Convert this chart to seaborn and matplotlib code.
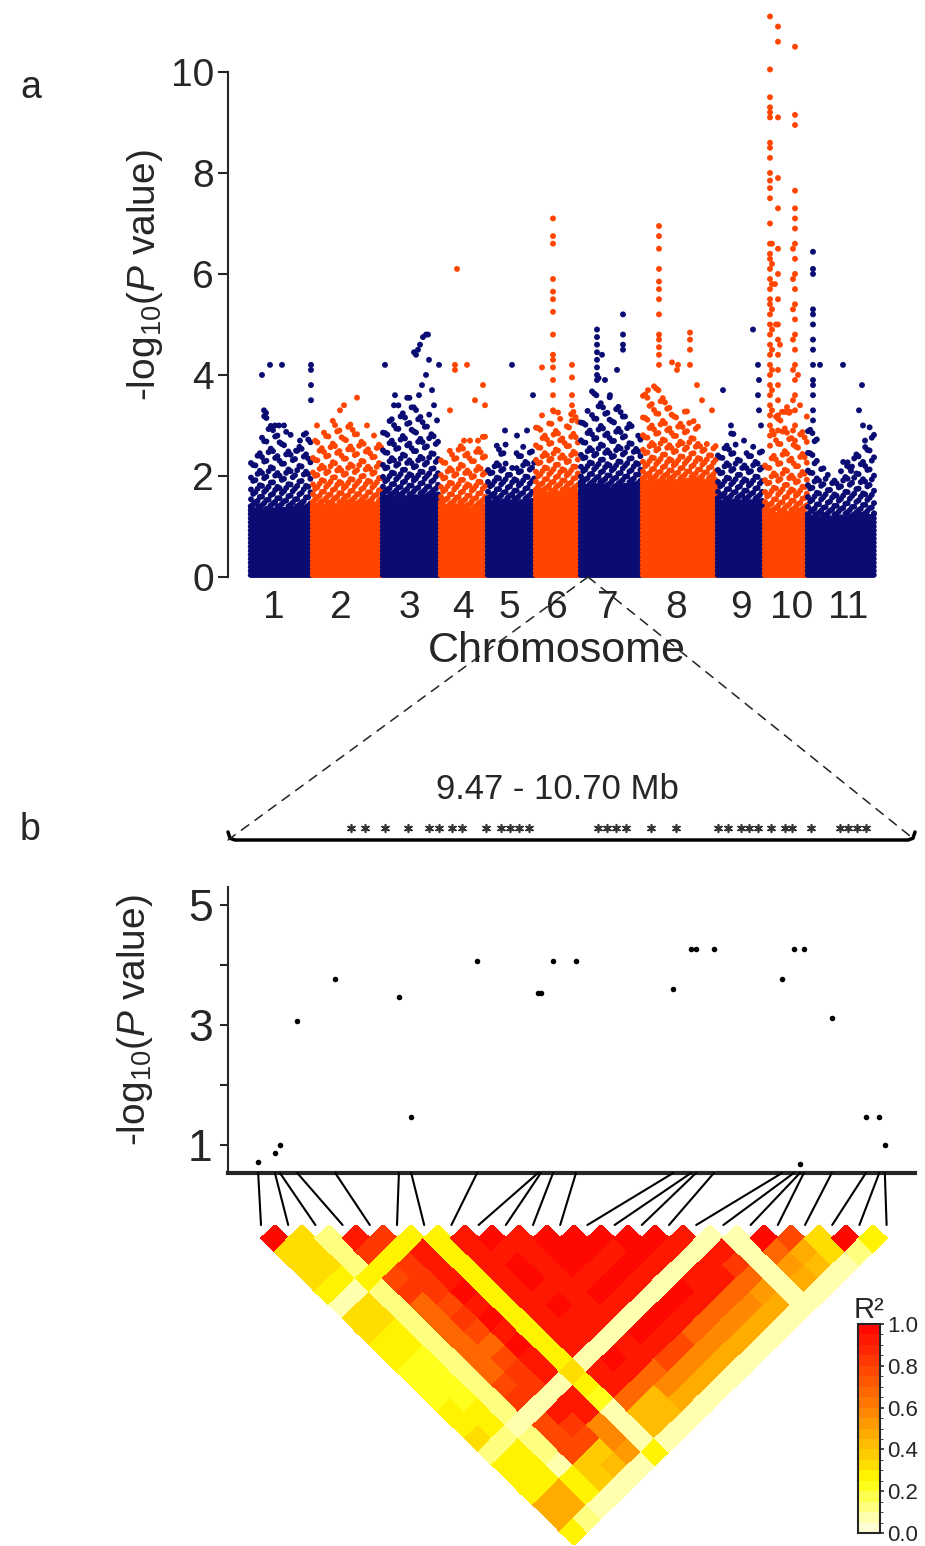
import numpy as np
import pandas as pd
import matplotlib
matplotlib.use('Agg')
import matplotlib.pyplot as plt
import seaborn as sns
from matplotlib.colors import LinearSegmentedColormap, ListedColormap, BoundaryNorm
from matplotlib.patches import ConnectionPatch
from matplotlib.cm import ScalarMappable

sns.set_style('ticks')
plt.rcParams['font.family'] = ['Liberation Sans', 'DejaVu Sans']
plt.rcParams.update({
    'mathtext.fontset': 'custom',
    'mathtext.rm': 'Liberation Sans',
    'mathtext.it': 'Liberation Sans:italic',
    'axes.linewidth': 1.5,
})

NAVY = '#0B0B74'
ORANGE = '#FF4500'

# ---------------- panel a: genome-wide scan ----------------
chrom_names = ['1', '2', '3', '4', '5', '6', '7', '8', '9', '10', '11']
chrom_sizes = [62, 70, 58, 47, 48, 45, 62, 75, 47, 43, 68]
chrom_label_pos = [24, 91, 159, 213, 259, 307, 358, 426, 491, 542, 598]
# top of the solid band of points, per chromosome
band_top = [1.45, 1.55, 1.7, 1.5, 1.6, 1.8, 1.9, 2.0, 1.6, 1.4, 1.3]
# upper limit of the scattered cloud above the band (bins along each chromosome)
cloud_top = [
    [2.5, 3.2, 3.0, 2.9, 2.7, 3.1],
    [2.7, 3.0, 3.2, 3.1, 3.0, 2.8, 2.7],
    [3.1, 3.4, 3.6, 3.5, 3.3, 3.0],
    [2.4, 2.7, 2.7, 2.6, 2.8],
    [2.3, 2.7, 2.2, 2.7, 2.5],
    [3.0, 3.1, 3.3, 3.0, 3.3],
    [3.3, 4.0, 3.6, 3.4, 3.2, 2.8],
    [3.8, 3.8, 3.6, 3.4, 3.3, 3.1, 2.8, 2.6],
    [2.6, 2.9, 2.4, 2.6, 2.5],
    [2.4, 3.2, 3.4, 2.8, 3.2],
    [3.2, 2.2, 2.0, 2.3, 2.6, 3.0],
]
# distinct high SNPs: (offset in chromosome, [-log10 P values])
peaks = [
    [(12, [4.0]), (14, [3.3]), (16, [3.25]), (20, [4.2]), (25, [3.0]), (29, [3.0]),
     (32, [4.2]), (34, [3.0]), (46, [2.5]), (50, [2.7]), (61, [4.2, 4.1, 3.8, 3.5])],
    [(5, [3.0]), (28, [3.3]), (32, [3.4]), (45, [3.55]), (55, [3.0]), (62, [2.8])],
    [(3, [4.2]), (12, [3.4]), (13, [3.6]), (32, [4.45]), (34, [4.4]), (36, [4.5]),
     (38, [4.6]), (41, [4.75]), (44, [4.8, 4.0]), (46, [4.8]), (47, [4.3]), (40, [3.8]),
     (37, [3.6]), (50, [3.7]), (52, [3.4]), (55, [3.1]), (57, [4.2])],
    [(17, [6.1]), (15, [4.2, 4.1]), (27, [4.2]), (43, [3.8]), (35, [3.5]), (10, [3.3]),
     (24, [2.7]), (30, [2.7]), (38, [2.7]), (45, [3.4])],
    [(25, [4.2]), (46, [3.6]), (30, [2.8]), (40, [2.9]), (18, [2.9])],
    [(18, [7.1, 6.75, 6.6, 5.9, 5.65, 5.5, 5.25, 4.8, 4.4, 4.3, 4.15, 3.9, 3.6, 3.3]),
     (7, [4.15, 3.2]), (37, [4.2, 3.95, 3.6, 3.4, 3.1])],
    [(17, [4.9, 4.75, 4.6, 4.45, 4.3, 4.15, 4.0, 3.9]), (43, [5.2, 4.8, 4.6, 4.5]),
     (37, [4.1]), (22, [4.4]), (25, [3.9]), (30, [3.6])],
    [(17, [6.95, 6.75, 6.5, 6.1, 5.85, 5.7, 5.5, 5.2, 4.8, 4.7, 4.55, 4.4, 4.2]),
     (48, [4.84, 4.7, 4.5, 4.2]), (30, [4.25]), (36, [4.2]), (35, [4.1]), (6, [3.7]),
     (55, [3.8]), (60, [3.5]), (70, [3.3])],
    [(36, [4.9]), (6, [3.7]), (14, [3.0]), (27, [2.7]), (41, [4.2, 3.6]), (42, [3.9, 3.3]),
     (44, [3.0])],
    [(6, [11.1, 10.05, 9.5, 9.3, 9.2, 9.1, 8.6, 8.5, 8.3, 8.0, 7.85, 7.7, 7.5, 7.0, 6.6,
          6.4, 6.3, 6.1, 5.9, 5.7, 5.5, 5.4, 5.2, 5.0, 4.8, 4.6, 4.4, 4.2, 4.0, 3.8, 3.6,
          3.4, 3.2, 3.0, 2.8, 2.6]),
     (8, [6.6, 6.2, 5.8, 5.3, 4.9, 4.5, 4.1, 3.7, 3.3, 2.9]),
     (14, [10.9, 10.6, 9.1, 7.9, 7.3, 6.5, 6.0, 5.5, 5.0, 4.7, 4.4, 4.1, 3.8, 3.5, 3.2, 2.9]),
     (31, [10.5, 9.15, 8.95, 7.65, 7.3, 7.1, 6.9, 6.6, 6.3, 6.0, 5.7, 5.4, 5.1, 4.8, 4.5,
           4.2, 3.9, 3.6, 3.3, 3.0, 2.7]),
     (29, [6.5, 5.9, 5.3, 4.7, 4.1, 3.5, 2.9]),
     (18, [3.27]), (20, [3.27]), (22, [3.27]), (24, [3.27]), (26, [3.27]),
     (11, [5.8]), (12, [5.0]), (16, [4.6]), (34, [4.0]), (36, [3.4])],
    [(6, [6.44, 6.1, 6.0, 5.3, 5.2, 5.0, 4.7, 4.5, 4.2, 3.9, 3.8, 3.6, 3.3, 3.1]),
     (13, [4.2]), (36, [4.2]), (55, [3.8]), (52, [3.3]), (56, [3.0]), (58, [2.7]),
     (40, [2.2]), (44, [2.1])],
]
zoom_chrom = 7          # chromosome holding the region of panel b
zoom_offset = 8

# ---------------- panel b: the 9.47 - 10.70 Mb region ----------------
region_start, region_end = 9.47, 10.70
snp_mb = [9.524, 9.554, 9.563, 9.594, 9.662, 9.776, 9.798, 9.916, 10.025, 10.030,
          10.052, 10.093, 10.267, 10.299, 10.308, 10.340, 10.462, 10.483, 10.494,
          10.501, 10.551, 10.612, 10.636, 10.646]
snp_logp = [0.72, 0.86, 1.0, 3.07, 3.76, 3.46, 1.47, 4.07, 3.54, 3.54, 4.07, 4.07,
            3.6, 4.27, 4.27, 4.27, 3.76, 4.27, 0.68, 4.27, 3.11, 1.47, 1.47, 1.0]
star_mb = [9.690, 9.715, 9.751, 9.792, 9.830, 9.848, 9.871, 9.889, 9.932, 9.959,
           9.975, 9.991, 10.009, 10.132, 10.149, 10.165, 10.183, 10.227, 10.272,
           10.347, 10.365, 10.388, 10.403, 10.419, 10.442, 10.467, 10.480, 10.514,
           10.566, 10.580, 10.596, 10.612]

# pairwise r2, row i = SNP i against SNPs i+1 .. 23
ld_rows = [
    [1.0, 0.32, 0.32, 0.32, 0.28, 0.05, 0.33, 0.33, 0.25, 0.25, 0.24, 0.24, 0.24, 0.25,
     0.3, 0.35, 0.1, 0.25, 0.25, 0.3, 0.45, 0.45, 0.25],
    [0.32, 0.33, 0.33, 0.3, 0.08, 0.33, 0.33, 0.3, 0.25, 0.24, 0.24, 0.24, 0.24, 0.25,
     0.3, 0.1, 0.25, 0.25, 0.25, 0.45, 0.45, 0.15],
    [0.12, 0.15, 0.15, 0.25, 0.15, 0.15, 0.15, 0.15, 0.15, 0.15, 0.15, 0.15, 0.15, 0.15,
     0.05, 0.12, 0.12, 0.08, 0.25, 0.25, 0.08],
    [0.95, 0.8, 0.25, 0.75, 0.8, 0.7, 0.7, 0.65, 0.65, 0.65, 0.7, 0.75, 0.8, 0.08, 0.75,
     0.75, 0.75, 0.38, 0.38, 0.05],
    [0.8, 0.25, 0.85, 0.85, 0.8, 0.75, 0.8, 0.75, 0.7, 0.75, 0.8, 0.85, 0.05, 0.9, 0.8,
     0.75, 0.38, 0.4, 0.05],
    [0.25, 0.95, 0.9, 0.95, 1.0, 0.95, 1.0, 0.95, 1.0, 0.95, 0.9, 0.05, 0.95, 0.95, 0.6,
     0.55, 0.5, 0.05],
    [0.27, 0.28, 0.27, 0.28, 0.27, 0.28, 0.27, 0.28, 0.27, 0.28, 0.35, 0.25, 0.22, 0.07,
     0.07, 0.07, 0.28],
    [0.9, 0.95, 0.9, 0.95, 0.95, 0.9, 0.9, 0.95, 0.9, 0.05, 0.95, 0.9, 0.7, 0.4, 0.4, 0.05],
    [1.0, 0.95, 1.0, 1.0, 0.95, 1.0, 0.95, 0.95, 0.05, 1.0, 0.95, 0.7, 0.42, 0.4, 0.05],
    [0.9, 0.95, 0.9, 0.95, 0.9, 0.95, 0.9, 0.05, 0.95, 0.9, 0.7, 0.55, 0.45, 0.05],
    [1.0, 1.0, 1.0, 0.95, 1.0, 0.95, 0.05, 1.0, 0.95, 0.75, 0.55, 0.45, 0.05],
    [1.0, 1.0, 0.95, 1.0, 0.95, 0.05, 1.0, 0.95, 0.75, 0.55, 0.45, 0.05],
    [1.0, 0.95, 1.0, 0.95, 0.05, 1.0, 0.95, 0.7, 0.55, 0.45, 0.05],
    [1.0, 1.0, 0.95, 0.05, 1.0, 0.95, 0.7, 0.55, 0.45, 0.05],
    [1.0, 0.95, 0.05, 0.95, 0.95, 0.7, 0.55, 0.45, 0.05],
    [0.9, 0.05, 0.95, 0.9, 0.7, 0.55, 0.45, 0.05],
    [0.05, 0.9, 0.85, 0.65, 0.5, 0.45, 0.05],
    [0.05, 0.05, 0.05, 0.05, 0.05, 0.05],
    [1.0, 0.7, 0.5, 0.45, 0.05],
    [0.75, 0.45, 0.4, 0.05],
    [0.35, 0.35, 0.05],
    [1.0, 0.12],
    [0.28],
]
r2_ticks = [0.0, 0.2, 0.4, 0.6, 0.8, 1.0]

# ---------------- build the scan table ----------------
# the dense band and the cloud are drawn as staggered columns of points,
# reaching the levels
recs = []
chrom_start = np.concatenate([[0], np.cumsum(chrom_sizes)[:-1]])
stagger = 0.618034
for c, size in enumerate(chrom_sizes):
    start = chrom_start[c]
    tops = cloud_top[c]
    nb = len(tops)
    for k, x in enumerate(np.arange(0.75, size, 1.5)):
        f = (k * stagger) % 1.0
        for y in np.arange(0.04, band_top[c] - 0.3 * f, 0.08):
            recs.append((start + x, y, c))
    for k, x in enumerate(np.arange(1.0, size, 2.2)):
        top = tops[min(int(x / size * nb), nb - 1)]
        f = (k * stagger) % 1.0
        y = band_top[c] - 0.2 + 0.3 * f
        step = 0.13
        while y < top:
            recs.append((start + x, y, c))
            y += step * (1.0 + f)
            step *= 1.22
    for off, vals in peaks[c]:
        for v in vals:
            recs.append((start + off, v, c))
scan = pd.DataFrame(recs, columns=['pos', 'logp', 'chrom'])
scan['colour'] = np.where(scan['chrom'] % 2 == 0, 'odd', 'even')

# ---------------- figure ----------------
fig = plt.figure(figsize=(9.25, 15.46), dpi=100)
W, H = 925.0, 1546.0


def box(x0, y0, x1, y1):
    return [x0 / W, 1 - y1 / H, (x1 - x0) / W, (y1 - y0) / H]


ax_a = fig.add_axes(box(228, 6.35, 900, 582))
sns.scatterplot(data=scan, x='pos', y='logp', hue='colour',
                palette={'odd': NAVY, 'even': ORANGE}, s=18, linewidth=0,
                legend=False, ax=ax_a, rasterized=True)
ax_a.set_xlim(-22, 650)
ax_a.set_ylim(-0.1, 11.3)
ax_a.set_xticks(chrom_label_pos)
ax_a.set_xticklabels(chrom_names, fontsize=28)
ax_a.tick_params(axis='x', length=0, pad=6)
ax_a.set_yticks([0, 2, 4, 6, 8, 10])
ax_a.set_yticklabels(['0', '2', '4', '6', '8', '10'], fontsize=28)
ax_a.tick_params(axis='y', length=7, width=1.5, pad=3)
for side in ['top', 'right', 'bottom']:
    ax_a.spines[side].set_visible(False)
ax_a.spines['left'].set_bounds(0, 10)
ax_a.set_xlabel('Chromosome', fontsize=31)
ax_a.xaxis.set_label_coords((557 - 228) / 672, (582 - 651) / 575.65)
ax_a.xaxis.label.set_va('center')
ax_a.set_ylabel(r'-log$_{10}$($\mathit{P}$ value)', fontsize=28)
ax_a.yaxis.set_label_coords((145 - 228) / 672, (582 - 275) / 575.65)
ax_a.yaxis.label.set_va('center')

# region bracket with gene stars
ax_r = fig.add_axes(box(228, 760, 915, 850))
ax_r.set_xlim(region_start, region_end)
ax_r.set_ylim(0, 1)
ax_r.axis('off')
span = region_end - region_start
ax_r.plot([region_start, region_start + 0.003 * span, region_start + 0.01 * span,
           region_end - 0.01 * span, region_end - 0.003 * span, region_end],
          [0.2, 0.13, 0.111, 0.111, 0.13, 0.2], color='black', lw=2.5, clip_on=False)
ax_r.scatter(star_mb, [0.244] * len(star_mb), marker=(6, 2, 0), s=30,
             color='#333333', linewidths=1.2, clip_on=False)
ax_r.text((557 - 228) / 687, 0.667, f'{region_start:.2f} - {region_end:.2f} Mb',
          transform=ax_r.transAxes, ha='center', va='center', fontsize=25)

apex_x = chrom_start[zoom_chrom - 1] + zoom_offset
for end in [region_start, region_end]:
    fig.add_artist(ConnectionPatch(xyA=(apex_x, 0), coordsA=ax_a.transData,
                                   xyB=(end, 0.111), coordsB=ax_r.transData,
                                   linestyle=(0, (6, 5)), lw=1.1, color='#222222'))

# association in the region
ax_b = fig.add_axes(box(228, 887, 915, 1173))
region = pd.DataFrame({'mb': snp_mb, 'logp': snp_logp})
sns.scatterplot(data=region, x='mb', y='logp', color='black', s=16, linewidth=0,
                ax=ax_b, zorder=3, clip_on=False)
ax_b.set_xlim(region_start, region_end)
ax_b.set_ylim(0.53, 5.3)
ax_b.set_xticks([])
ax_b.set_xlabel('')
ax_b.set_yticks([1, 2, 3, 4, 5])
ax_b.set_yticklabels(['1', '', '3', '', '5'], fontsize=32)
ax_b.tick_params(axis='y', length=6, width=1.5, pad=5)
ax_b.spines['top'].set_visible(False)
ax_b.spines['right'].set_visible(False)
ax_b.spines['bottom'].set_linewidth(3)
ax_b.set_ylabel(r'-log$_{10}$($\mathit{P}$ value)', fontsize=28)
ax_b.yaxis.set_label_coords((135 - 228) / 687, (1173 - 1020) / 286)
ax_b.yaxis.label.set_va('center')

# LD heatmap, rotated 45 degrees
n = len(snp_mb)
r2 = np.full((n, n), np.nan)
for i, row in enumerate(ld_rows):
    for k, v in enumerate(row):
        r2[i + 1 + k, i] = v
A, B = np.meshgrid(np.arange(n + 1), np.arange(n + 1))
X = (A + B) / 2.0
Y = (A - B) / 2.0

anchors = [(0.0, '#FFFFE8'), (0.1, '#FFFF99'), (0.2, '#FFFF33'), (0.25, '#FFFF00'),
           (0.3, '#FFE600'), (0.4, '#FFC400'), (0.5, '#FFA300'), (0.6, '#FF8000'),
           (0.7, '#FF6000'), (0.8, '#FF4000'), (0.9, '#FF2000'), (1.0, '#FF0000')]
smooth = LinearSegmentedColormap.from_list('ld', anchors)
cmap = ListedColormap(smooth((np.arange(20) + 0.5) / 20))
norm = BoundaryNorm(np.linspace(0, 1, 21), cmap.N)

ax_ld = fig.add_axes(box(247.4, 1225, 900.2, 1545))
ax_ld.pcolormesh(X, Y, np.ma.masked_invalid(r2), cmap=cmap, norm=norm,
                 edgecolors='face', linewidth=0.2)
ax_ld.set_xlim(0, n)
ax_ld.set_ylim(-n / 2, 0)
ax_ld.axis('off')

for i, mb in enumerate(snp_mb):
    fig.add_artist(ConnectionPatch(xyA=(mb, 0.53), coordsA=ax_b.transData,
                                   xyB=(i + 0.5, 0.0), coordsB=ax_ld.transData,
                                   lw=1.5, color='black'))

cax = fig.add_axes(box(858, 1324, 880, 1533))
cb = fig.colorbar(ScalarMappable(norm=norm, cmap=cmap), cax=cax, ticks=r2_ticks)
cb.ax.set_yticklabels([f'{t:.1f}' for t in r2_ticks], fontsize=16)
cb.ax.tick_params(length=3, width=1.2, pad=2)
cb.outline.set_linewidth(1.5)
cb.ax.set_title('R²', fontsize=21, pad=4)

fig.text(20 / W, 1 - 88 / H, 'a', fontsize=27, va='center')
fig.text(20 / W, 1 - 830 / H, 'b', fontsize=27, va='center')

fig.savefig('out.png', dpi=100, facecolor='white')
